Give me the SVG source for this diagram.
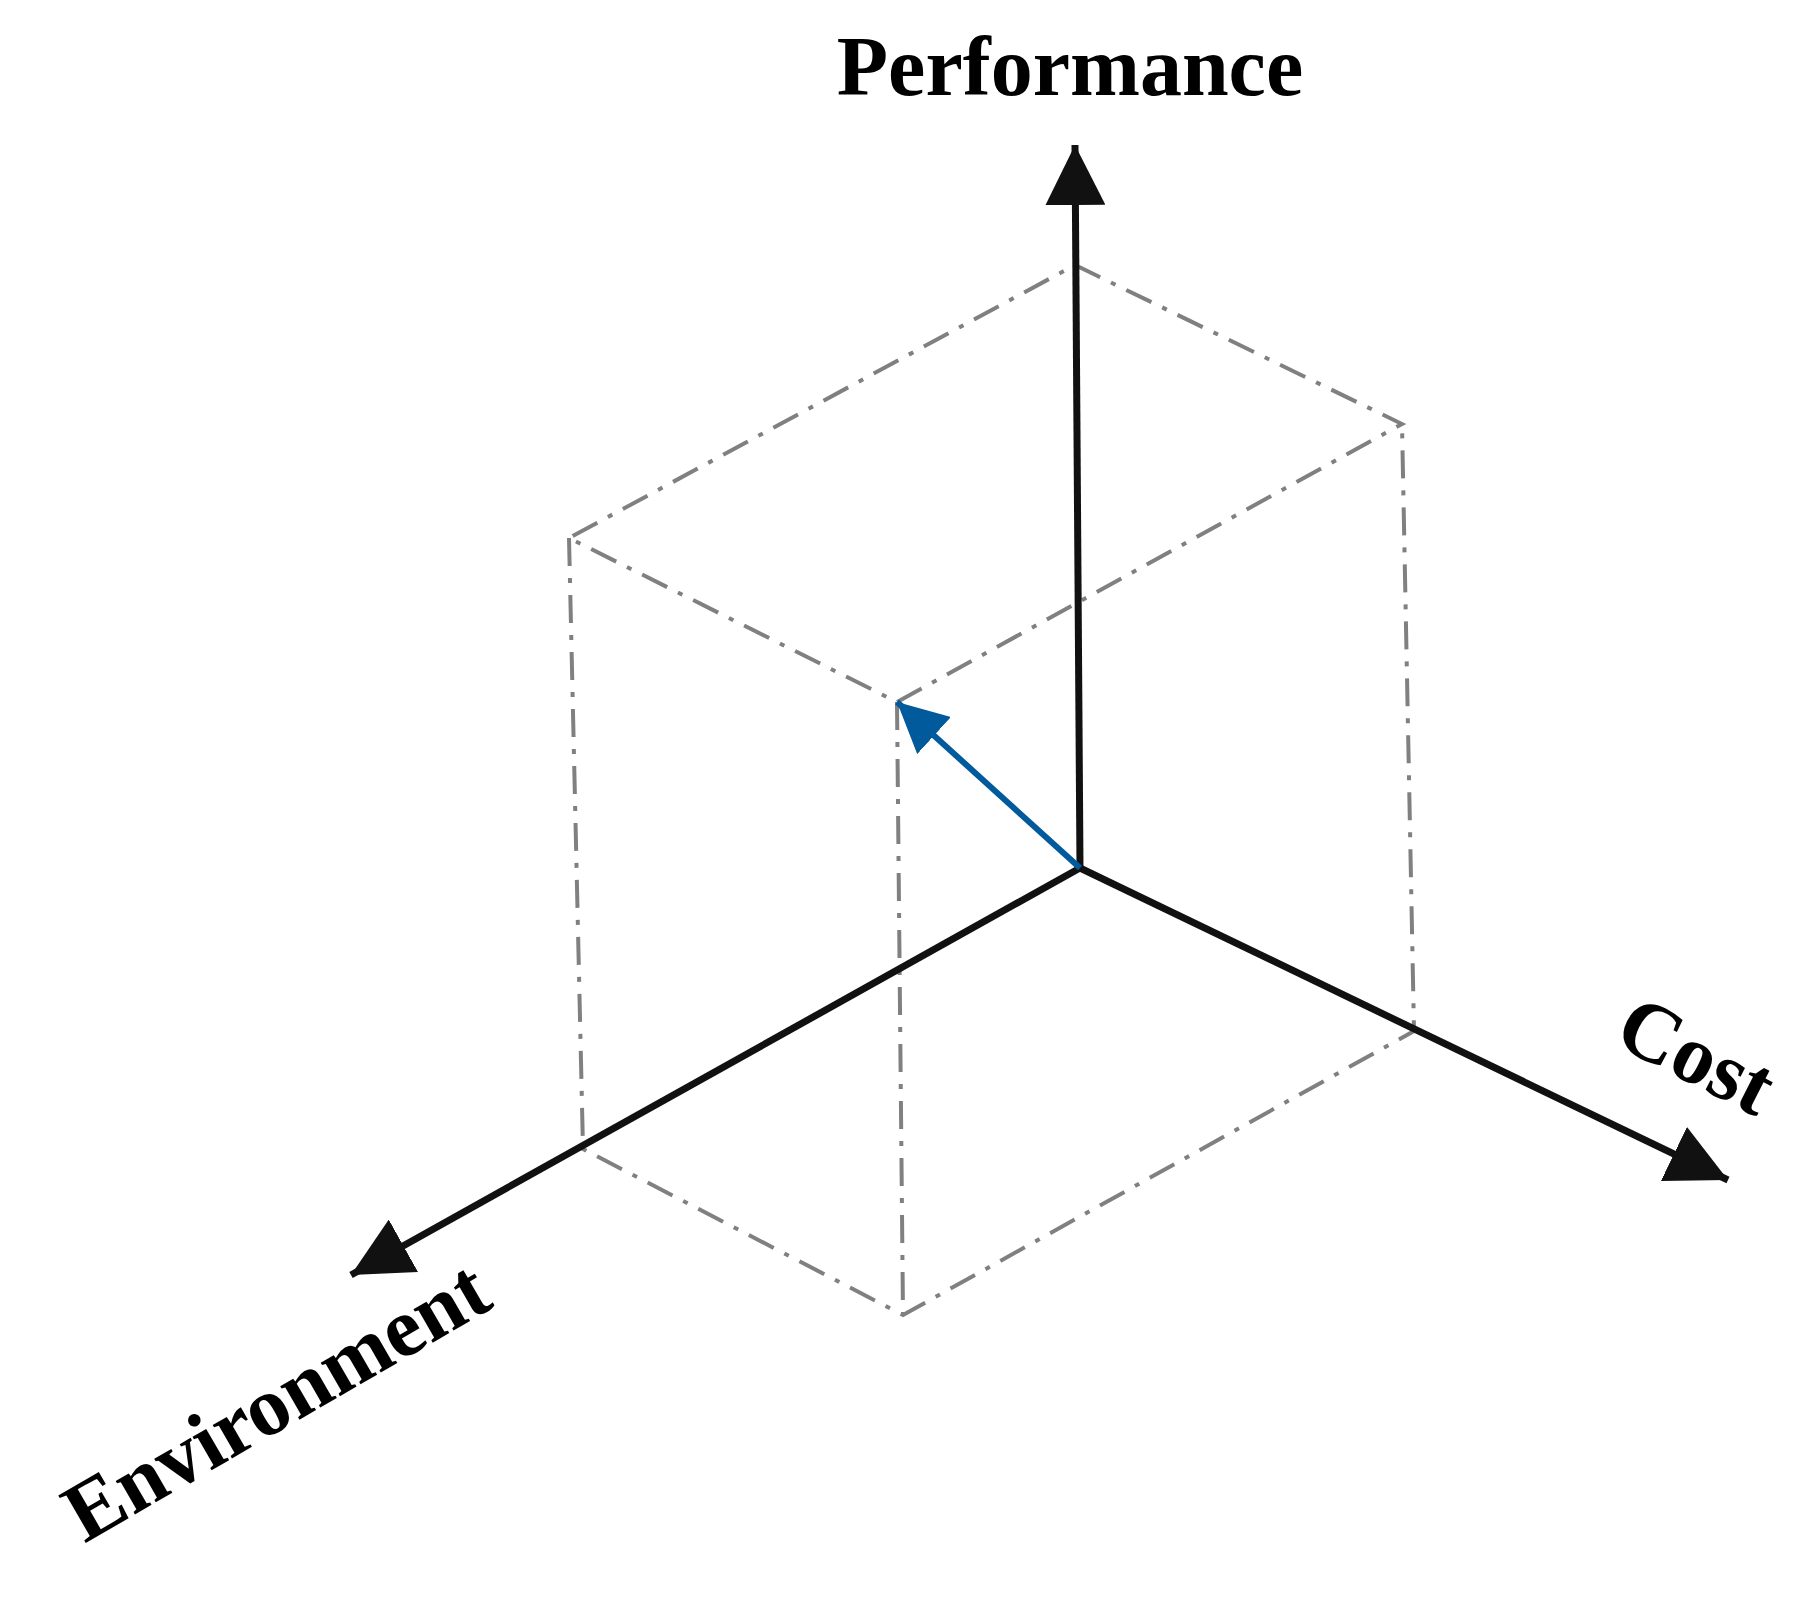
<svg xmlns="http://www.w3.org/2000/svg" width="1820" height="1607" viewBox="0 0 1820 1607">
<style>
.cube{stroke:#808080;stroke-width:4;fill:none;stroke-dasharray:28 12 5 12}
.axis{stroke:#111;stroke-width:7;fill:none}
.lbl{font-family:"Liberation Serif",serif;font-weight:bold;font-size:84px;fill:#000;text-anchor:middle}
</style>
<defs>
<marker id="ah" markerUnits="userSpaceOnUse" markerWidth="60" markerHeight="60" refX="50" refY="25" orient="auto" viewBox="0 0 50 50"><path d="M0,0 L50,25 L0,50 Z" fill="#111"/></marker>
<marker id="ab" markerUnits="userSpaceOnUse" markerWidth="50" markerHeight="50" refX="44" refY="22" orient="auto" viewBox="0 0 44 44"><path d="M0,0 L44,22 L0,44 Z" fill="#005a9c"/></marker>
</defs>
<g id="cube">
<path class="cube" d="M1075,265 L1402,424 L897,702 L569,538 Z"/>
<path class="cube" d="M569,538 L583,1149 L903,1315 L1414,1031 L1402,424"/>
<path class="cube" d="M897,702 L903,1315"/>
</g>
<g id="connectors">
<line class="axis" x1="1080" y1="868" x2="1075" y2="145" marker-end="url(#ah)"/>
<line class="axis" x1="1080" y1="868" x2="1728" y2="1180" marker-end="url(#ah)"/>
<line class="axis" x1="1080" y1="868" x2="351" y2="1275" marker-end="url(#ah)"/>
<line x1="1080" y1="868" x2="897" y2="702" stroke="#005a9c" stroke-width="6" marker-end="url(#ab)"/>
</g>
<g id="labels">
<text class="lbl" x="1070" y="95">Performance</text>
<text class="lbl" transform="translate(1684,1080) rotate(27)">Cost</text>
<text class="lbl" transform="translate(290,1425) rotate(-30)">Environment</text>
</g>
</svg>
